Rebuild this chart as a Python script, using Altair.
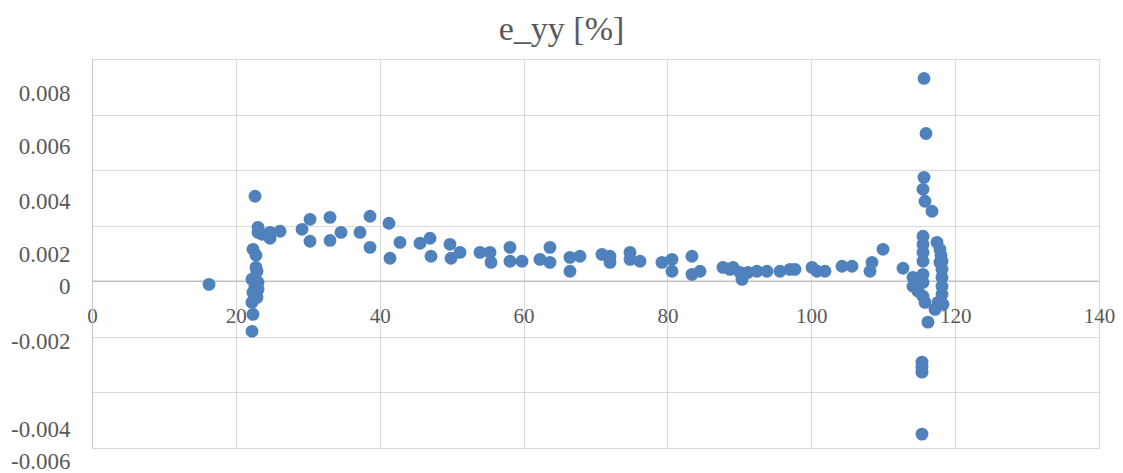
import altair as alt
import pandas as pd

# x positions and e_yy values
xs = [16.27,
      22.66, 23.08, 23.08, 23.63, 24.75, 24.75, 26.14, 22.38, 22.80, 22.80, 22.94, 22.66, 22.24,
      23.08, 22.66, 23.08, 22.38, 22.94, 22.24, 22.38, 22.24,
      29.20, 30.31, 30.31, 33.09, 33.09, 34.62, 37.26, 38.65, 38.65, 41.29, 41.43, 42.82, 45.60,
      46.99, 47.13, 49.77, 49.91, 51.16, 53.94, 55.33, 55.47,
      58.11, 58.11, 59.78, 62.28, 63.67, 63.67, 66.45, 67.84, 66.45, 70.90, 72.01, 72.01, 74.80,
      76.19, 74.80, 79.24, 80.63, 80.63, 83.41, 83.41, 84.53, 87.72, 88.70, 89.12, 90.09, 90.37,
      91.20, 92.45, 93.84, 95.65, 97.04, 97.73, 100.10, 100.79, 101.90, 104.27, 105.66, 108.16,
      108.44, 109.97,
      112.75, 115.67, 115.95, 115.67, 115.53, 115.81, 116.78, 115.53, 115.53, 117.48, 115.53,
      115.53, 117.89, 118.17, 118.17, 114.14, 115.53, 114.14, 115.53, 118.17, 118.17, 114.84,
      115.53, 115.81, 117.62, 118.31, 117.20, 116.22, 115.39, 115.39, 115.39, 115.39,
      117.89, 118.03, 118.17]
ys = [-0.00011,
      0.00306, 0.00194, 0.00176, 0.00169, 0.00176, 0.00155, 0.00180, 0.00115, 0.00094, 0.00050,
      0.00036, 0.00014, 0.00007, -0.00004, -0.00018, -0.00029, -0.00040, -0.00058, -0.00076,
      -0.00119, -0.00180,
      0.00187, 0.00223, 0.00144, 0.00230, 0.00147, 0.00176, 0.00176, 0.00234, 0.00122, 0.00209,
      0.00083, 0.00140, 0.00137, 0.00155, 0.00090, 0.00133, 0.00083, 0.00104, 0.00104, 0.00104,
      0.00068,
      0.00122, 0.00072, 0.00072, 0.00079, 0.00122, 0.00068, 0.00086, 0.00090, 0.00036, 0.00097,
      0.00068, 0.00090, 0.00104, 0.00072, 0.00079, 0.00068, 0.00079, 0.00036, 0.00090, 0.00025,
      0.00036, 0.00050, 0.00043, 0.00050, 0.00032, 0.00007, 0.00032, 0.00036, 0.00036, 0.00036,
      0.00043, 0.00043, 0.00050, 0.00036, 0.00036, 0.00054, 0.00054, 0.00036, 0.00068, 0.00115,
      0.00047, 0.00730, 0.00532, 0.00374, 0.00331, 0.00288, 0.00252, 0.00162, 0.00133, 0.00140,
      0.00104, 0.00072, 0.00068, 0.00043, 0.00014, 0.00014, 0.00025, -0.00018, -0.00004,
      -0.00018, -0.00047, -0.00036, -0.00054, -0.00076, -0.00076, -0.00083, -0.00101, -0.00147,
      -0.00291, -0.00309, -0.00327, -0.00550,
      0.00115, 0.00094, 0.00072]

y_ticks = [-0.006, -0.004, -0.002, 0, 0.002, 0.004, 0.006, 0.008]
x_ticks = [0, 20, 40, 60, 80, 100, 120, 140]

df = pd.DataFrame({"x": xs, "y": ys})

FONT = "Liberation Serif"
TXT = "#595959"

xscale = alt.Scale(domain=[0, 140], nice=False, zero=False)
yscale = alt.Scale(domain=[-0.006, 0.008], nice=False, zero=False)

y_axis = alt.Axis(
    values=y_ticks, grid=True, gridColor="#d9d9d9", ticks=False,
    domain=True, domainColor="#c8c8c8", labelPadding=22,
    labelFont=FONT, labelFontSize=23, labelColor=TXT,
    labelExpr="replace(format(datum.value, '.3~f'), '\u2212', '-')",
    labelOffset={"condition": [
        {"test": "datum.value > 0.007", "value": 34},
        {"test": "datum.value > 0.005", "value": 32},
        {"test": "datum.value > 0.003", "value": 31},
        {"test": "datum.value > 0.001", "value": 29},
        {"test": "datum.value > -0.001", "value": 5},
        {"test": "datum.value > -0.003", "value": 5},
        {"test": "datum.value > -0.005", "value": 37},
    ], "value": 13},
    title=None,
)

zero_line = alt.Chart(pd.DataFrame({"x0": [0], "x1": [140], "y0": [0]})).mark_rule(
    color="#bfbfbf", strokeWidth=1.5
).encode(
    x=alt.X("x0:Q", scale=xscale, axis=alt.Axis(
        orient="bottom", values=x_ticks, grid=False, ticks=False, domain=False,
        offset=-167, labelPadding=24, labelFlush=False, labelFont=FONT, labelFontSize=21,
        labelColor=TXT, title=None)),
    x2="x1:Q",
    y=alt.Y("y0:Q", scale=yscale, axis=y_axis),
)

points = alt.Chart(df).mark_circle(size=165, color="#4f81bd", opacity=1).encode(
    x=alt.X("x:Q", scale=xscale, axis=alt.Axis(
        orient="top", values=x_ticks, grid=True, gridColor="#d9d9d9",
        ticks=False, domain=False, labels=False, title=None)),
    y=alt.Y("y:Q", scale=yscale, axis=y_axis),
)

chart = alt.layer(zero_line, points).resolve_axis(x="independent").properties(
    width=1007, height=389,
    autosize=alt.AutoSizeParams(type="none"),
    padding={"left": 84, "top": 51, "right": 16, "bottom": 24},
    title=alt.TitleParams("e_yy [%]", font=FONT, fontSize=34, fontWeight="normal",
                          color=TXT, anchor="middle", dx=-34, dy=37, offset=22,
                          baseline="alphabetic"),
).configure_view(stroke=None).configure(background="white")

chart.save("out.html", embed_options={"renderer": "svg", "actions": False})
